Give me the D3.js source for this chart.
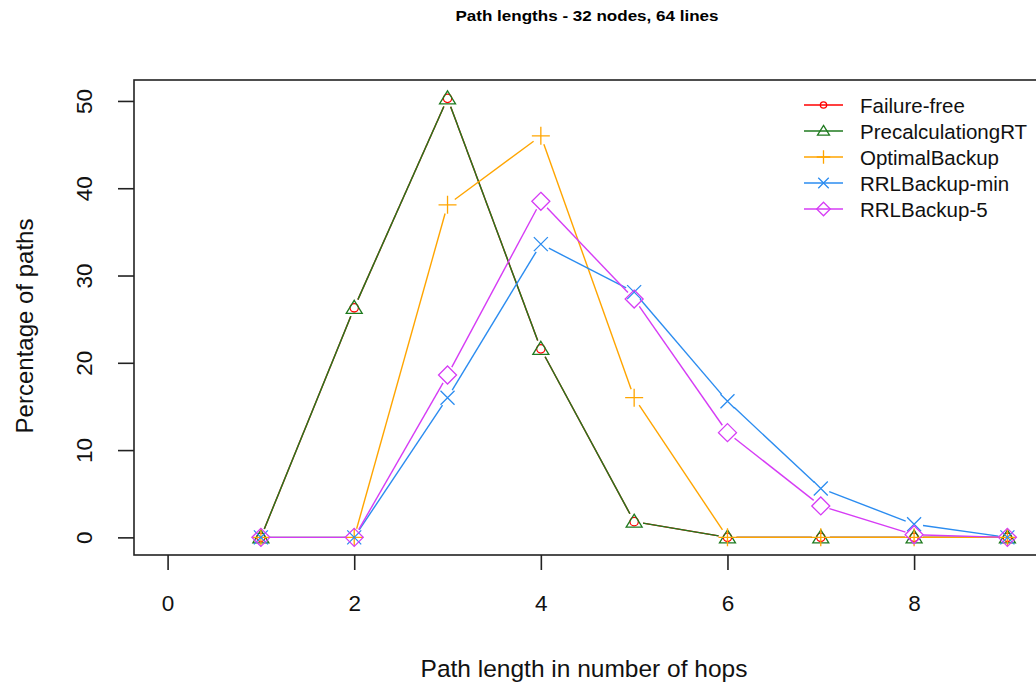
<!DOCTYPE html>
<html><head><meta charset="utf-8">
<script src="https://cdn.jsdelivr.net/npm/d3@7"></script>
<style>body{margin:0;background:#fff}svg{display:block;font-family:"Liberation Sans",Arial,sans-serif}</style>
</head><body>
<svg id="c" width="1036" height="684"></svg>
<script>
const hops = [1,2,3,4,5,6,7,8,9];
const failureFree = [0,26.3,50.3,21.6,1.8,0,0,0,0];
const precalculationRT = [0,26.3,50.3,21.6,1.8,0,0,0,0];
const optimalBackup = [0,0,38.1,46.0,16.0,0,0,0,0];
const rrlBackupMin = [0,0,16.0,33.6,28.1,15.6,5.6,1.5,0];
const rrlBackup5 = [0,0,18.6,38.5,27.3,12.0,3.6,0.3,0];
const seriesNames = ["Failure-free","PrecalculationgRT","OptimalBackup","RRLBackup-min","RRLBackup-5"];
const xTicks = [0,2,4,6,8];
const yTicks = [0,10,20,30,40,50];

const series = [
  {name:seriesNames[0], values:failureFree, color:"#ff0000", shape:"circle"},
  {name:seriesNames[1], values:precalculationRT, color:"#1f7a1f", shape:"triangle"},
  {name:seriesNames[2], values:optimalBackup, color:"#ffa500", shape:"plus"},
  {name:seriesNames[3], values:rrlBackupMin, color:"#2b8cf0", shape:"cross"},
  {name:seriesNames[4], values:rrlBackup5, color:"#d63cf5", shape:"diamond"}
];

const svg = d3.select("#c");
const x = d3.scaleLinear().domain([-0.36, 9.36]).range([134, 1041]);
const y = d3.scaleLinear().domain([-2.02, 52.4]).range([555, 80]);

// title
svg.append("text").attr("x", 587).attr("y", 21).attr("text-anchor","middle")
  .attr("font-size", 15).attr("font-weight","bold").attr("textLength",263).attr("lengthAdjust","spacingAndGlyphs")
  .text("Path lengths - 32 nodes, 64 lines");

// plot box
svg.append("rect").attr("x", 134).attr("y", 80).attr("width", 1041-134).attr("height", 555-80)
  .attr("fill","none").attr("stroke","#222").attr("stroke-width",1.6);

// x axis
const xa = svg.append("g").attr("transform","translate(0,555)")
  .call(d3.axisBottom(x).tickValues(xTicks).tickSize(15).tickPadding(25).tickFormat(d3.format("d")));
xa.select(".domain").remove();
xa.selectAll("line").attr("stroke","#222").attr("stroke-width",1.6);
xa.selectAll("text").attr("font-size",22.5).attr("fill","#111").attr("font-family","Liberation Sans, Arial, sans-serif");

// y axis
const ya = svg.append("g").attr("transform","translate(134,0)")
  .call(d3.axisLeft(y).tickValues(yTicks).tickSize(16).tickFormat(d3.format("d")));
ya.select(".domain").remove();
ya.selectAll("line").attr("stroke","#222").attr("stroke-width",1.6);
ya.selectAll("text").attr("font-size",22.5).attr("fill","#111").attr("font-family","Liberation Sans, Arial, sans-serif")
  .attr("text-anchor","middle").attr("dy",0).attr("x",0)
  .attr("transform","translate(-42,0) rotate(-90)");

// axis titles
svg.append("text").attr("x", 584).attr("y", 677).attr("text-anchor","middle").attr("font-size",24.5).attr("fill","#111")
  .text("Path length in number of hops");
svg.append("text").attr("transform","translate(33,326) rotate(-90)").attr("text-anchor","middle").attr("font-size",24).attr("fill","#111")
  .text("Percentage of paths");

function marker(g, shape, cx, cy, color, k){
  k = k || 1;
  const s = g.append("g").attr("transform",`translate(${cx},${cy}) scale(${k})`).attr("fill","none").attr("stroke",color).attr("stroke-width",1.3/k);
  if(shape==="circle") s.append("circle").attr("r",4.2);
  else if(shape==="triangle") s.append("path").attr("d","M0,-7.5L8,5.5L-8,5.5Z");
  else if(shape==="plus") s.append("path").attr("d","M-9,0H9M0,-9V9");
  else if(shape==="cross") s.append("path").attr("d","M-7,-7L7,7M-7,7L7,-7");
  else if(shape==="diamond") s.append("path").attr("d","M0,-9L9,0L0,9L-9,0Z");
}

const gap = 9;
const plot = svg.append("g");
series.forEach(s=>{
  const g = plot.append("g");
  const pts = hops.map((h,i)=>[x(h), y(s.values[i])]);
  for(let i=0;i<pts.length-1;i++){
    const [x1,y1]=pts[i],[x2,y2]=pts[i+1];
    const dx=x2-x1, dy=y2-y1, L=Math.hypot(dx,dy);
    if(L<=2*gap) continue;
    const ux=dx/L, uy=dy/L;
    g.append("line").attr("x1",x1+ux*gap).attr("y1",y1+uy*gap).attr("x2",x2-ux*gap).attr("y2",y2-uy*gap)
      .attr("stroke",s.color).attr("stroke-width",1.4);
  }
  pts.forEach(p=>marker(g, s.shape, p[0], p[1], s.color));
});

// legend
const lg = svg.append("g");
series.forEach((s,i)=>{
  const yy = 105 + i*26;
  lg.append("line").attr("x1",804).attr("x2",843).attr("y1",yy).attr("y2",yy).attr("stroke",s.color).attr("stroke-width",1.4);
  marker(lg, s.shape, 823.5, yy, s.color, 0.75);
  lg.append("text").attr("x",860).attr("y",yy+7.5).attr("font-size",20.5).attr("fill","#111").text(s.name);
});
</script>
</body></html>
